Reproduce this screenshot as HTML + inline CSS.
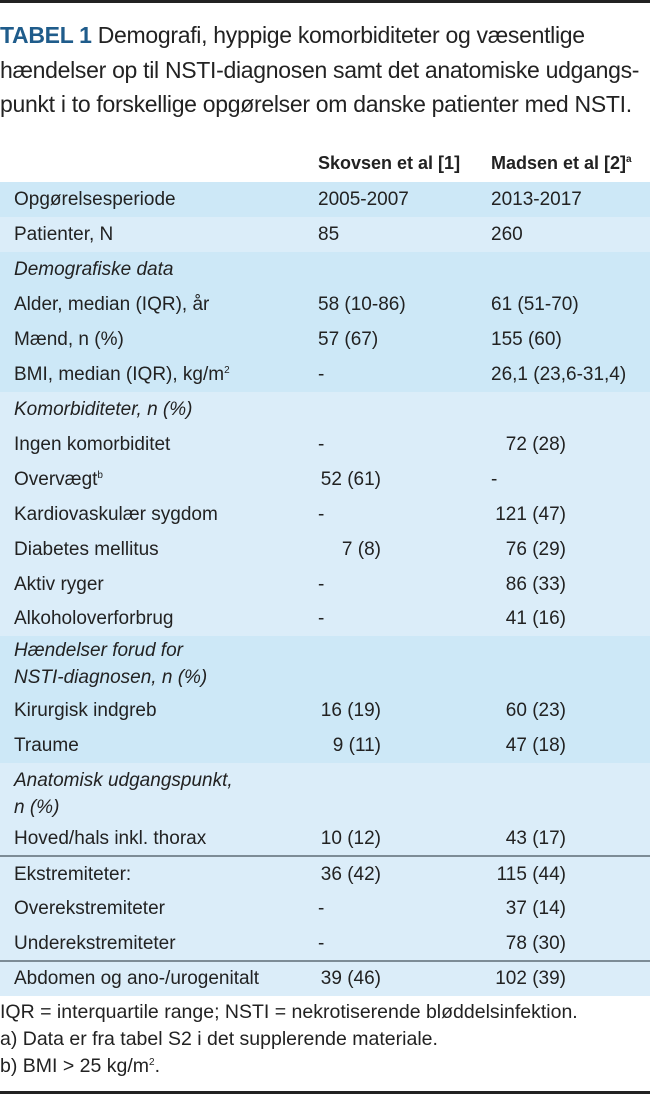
<!DOCTYPE html>
<html><head><meta charset="utf-8"><style>
body{margin:0;width:650px;height:1095px;background:#fff;font-family:"Liberation Sans",Arial,sans-serif;color:#222;position:relative;overflow:hidden}
.top{position:absolute;left:0;top:0;width:650px;height:3px;background:#222}
.bot{position:absolute;left:0;top:1091px;width:650px;height:3px;background:#222}
.title{position:absolute;left:0;top:18px;font-size:23px;line-height:34.5px;letter-spacing:-0.3px;width:680px;white-space:nowrap}
.title b{color:#1f5c8b}
.r{position:absolute;left:0;width:650px;font-size:19px}
.r span{position:absolute;white-space:nowrap}
.d{background:#cde8f7}.l{background:#dbedf9}
.a{left:14px}.b{left:318px}.c{left:491px}
.br{right:269px;text-align:right}.cr{right:84px;text-align:right}
i{font-style:italic}
sup{font-size:10px;line-height:0;vertical-align:7px}
.hl{position:absolute;left:0;width:650px;height:2px;background:#7d8c96}
.fn{position:absolute;left:0;font-size:19.5px;white-space:nowrap}
</style></head><body>
<div class="top"></div>
<div class="title"><b>TABEL 1</b> Demografi, hyppige komorbiditeter og væsentlige<br>hændelser op til NSTI-diagnosen samt det anatomiske udgangs-<br>punkt i to forskellige opgørelser om danske patienter med NSTI.</div>
<div class="r" style="top:153px;height:29px;font-weight:bold;font-size:18px"><span class="b">Skovsen et al [1]</span><span class="c">Madsen et al [2]<sup>a</sup></span></div>

<div class="r d" style="top:182px;height:35px;line-height:35px"><span class="a">Opgørelsesperiode</span><span class="b">2005-2007</span><span class="c">2013-2017</span></div>
<div class="r l" style="top:217px;height:35px;line-height:35px"><span class="a">Patienter, N</span><span class="b">85</span><span class="c">260</span></div>
<div class="r d" style="top:252px;height:140px;line-height:35px">
<span class="a" style="top:0"><i>Demografiske data</i></span>
<span class="a" style="top:35px">Alder, median (IQR), år</span><span class="b" style="top:35px">58 (10-86)</span><span class="c" style="top:35px">61 (51-70)</span>
<span class="a" style="top:70px">Mænd, n (%)</span><span class="b" style="top:70px">57 (67)</span><span class="c" style="top:70px">155 (60)</span>
<span class="a" style="top:105px">BMI, median (IQR), kg/m<sup>2</sup></span><span class="b" style="top:105px">-</span><span class="c" style="top:105px">26,1 (23,6-31,4)</span>
</div>
<div class="r l" style="top:392px;height:244px;line-height:35px">
<span class="a" style="top:0"><i>Komorbiditeter, n (%)</i></span>
<span class="a" style="top:35px">Ingen komorbiditet</span><span class="b" style="top:35px">-</span><span class="cr" style="top:35px">72 (28)</span>
<span class="a" style="top:70px">Overvægt<sup>b</sup></span><span class="br" style="top:70px">52 (61)</span><span class="c" style="top:70px">-</span>
<span class="a" style="top:105px">Kardiovaskulær sygdom</span><span class="b" style="top:105px">-</span><span class="cr" style="top:105px">121 (47)</span>
<span class="a" style="top:140px">Diabetes mellitus</span><span class="br" style="top:140px">7 (8)</span><span class="cr" style="top:140px">76 (29)</span>
<span class="a" style="top:175px">Aktiv ryger</span><span class="b" style="top:175px">-</span><span class="cr" style="top:175px">86 (33)</span>
<span class="a" style="top:209px">Alkoholoverforbrug</span><span class="b" style="top:209px">-</span><span class="cr" style="top:209px">41 (16)</span>
</div>
<div class="r d" style="top:636px;height:127px;line-height:35px">
<span class="a" style="top:1px;line-height:27px"><i>Hændelser forud for<br>NSTI-diagnosen, n (%)</i></span>
<span class="a" style="top:57px">Kirurgisk indgreb</span><span class="br" style="top:57px">16 (19)</span><span class="cr" style="top:57px">60 (23)</span>
<span class="a" style="top:92px">Traume</span><span class="br" style="top:92px">9 (11)</span><span class="cr" style="top:92px">47 (18)</span>
</div>
<div class="r l" style="top:763px;height:93px;line-height:35px">
<span class="a" style="top:0;line-height:27px;padding-top:4px"><i>Anatomisk udgangspunkt,<br>n (%)</i></span>
<span class="a" style="top:58px">Hoved/hals inkl. thorax</span><span class="br" style="top:58px">10 (12)</span><span class="cr" style="top:58px">43 (17)</span>
</div>
<div class="hl" style="top:855px"></div>
<div class="r l" style="top:857px;height:103px;line-height:35px">
<span class="a" style="top:0">Ekstremiteter:</span><span class="br" style="top:0">36 (42)</span><span class="cr" style="top:0">115 (44)</span>
<span class="a" style="top:34px">Overekstremiteter</span><span class="b" style="top:34px">-</span><span class="cr" style="top:34px">37 (14)</span>
<span class="a" style="top:69px">Underekstremiteter</span><span class="b" style="top:69px">-</span><span class="cr" style="top:69px">78 (30)</span>
</div>
<div class="hl" style="top:960px"></div>
<div class="r l" style="top:962px;height:34px;line-height:34px"><span class="a">Abdomen og ano-/urogenitalt</span><span class="br">39 (46)</span><span class="cr">102 (39)</span></div>
<div class="fn" style="top:1001px">IQR = interquartile range; NSTI = nekrotiserende bløddelsinfektion.</div>
<div class="fn" style="top:1028px">a) Data er fra tabel S2 i det supplerende materiale.</div>
<div class="fn" style="top:1055px">b) BMI &gt; 25 kg/m<sup>2</sup>.</div>
<div class="bot"></div>
</body></html>
